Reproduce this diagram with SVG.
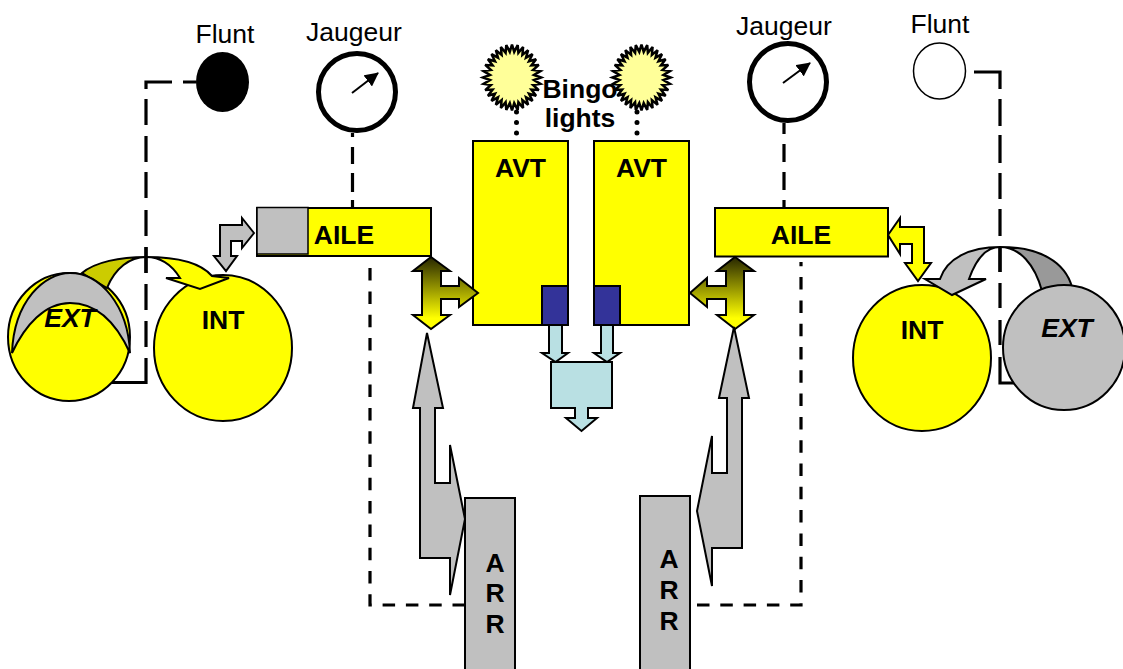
<svg xmlns="http://www.w3.org/2000/svg" width="1123" height="669" viewBox="0 0 1123 669">
<style>
text{font-family:"Liberation Sans",Arial,sans-serif;font-size:26.5px;fill:#000;text-anchor:middle}
.b{font-weight:700}.bi{font-weight:700;font-style:italic}
.s{stroke:#000;stroke-width:2;stroke-linejoin:miter}
.y{fill:#ff0}.g{fill:#c0c0c0}.c{fill:#b9e0e3}.n{fill:#333399}
.dl{fill:none;stroke:#000;stroke-width:3.2}
.ds{stroke-dasharray:12.5 10.8}
.star{fill:#ffff99;stroke:#000;stroke-width:2.5;stroke-miterlimit:3}
</style>
<defs>
<linearGradient id="fade" x1="0" y1="0" x2="0" y2="1"><stop offset="0" stop-color="#262600"/><stop offset="0.85" stop-color="#ffff00"/><stop offset="1" stop-color="#ffff00"/></linearGradient>
<polygon id="sun" class="star" points="29,0 22,-2.5 28.4,-6.4 21.1,-7.5 26.8,-12.6 19.4,-12.1 24.1,-18.3 17,-16.3 20.5,-23.3 14,-19.8 16.1,-27.4 10.4,-22.6 11.1,-30.5 6.4,-24.6 5.7,-32.4 2.2,-25.6 0,-33 -2.2,-25.6 -5.7,-32.4 -6.4,-24.6 -11.1,-30.5 -10.4,-22.6 -16.1,-27.4 -14,-19.8 -20.5,-23.3 -17,-16.3 -24.1,-18.3 -19.4,-12.1 -26.8,-12.6 -21.1,-7.5 -28.4,-6.4 -22,-2.5 -29,0 -22,2.5 -28.4,6.4 -21.1,7.5 -26.8,12.6 -19.4,12.1 -24.1,18.3 -17,16.3 -20.5,23.3 -14,19.8 -16.1,27.4 -10.4,22.6 -11.1,30.5 -6.4,24.6 -5.7,32.4 -2.2,25.6 0,33 2.2,25.6 5.7,32.4 6.4,24.6 11.1,30.5 10.4,22.6 16.1,27.4 14,19.8 20.5,23.3 17,16.3 24.1,18.3 19.4,12.1 26.8,12.6 21.1,7.5 28.4,6.4 22,2.5"/>
<marker id="gh" viewBox="0 0 14 14" refX="13" refY="7" markerWidth="14" markerHeight="14" markerUnits="userSpaceOnUse" orient="auto"><path d="M0,0L14,7L0,14Z"/></marker>
</defs>

<g id="connectors">
<path class="dl" d="M196,82H183M172,82H146V89M146,99V125M146,136V162M146,172V198M146,210V236M146,247V273M146,284V310M146,321V347M146,358V382.500H112"/>
<path class="dl" d="M974,72H1000V89M1000,99V126M1000,135V163M1000,173V199M1000,209V236M1000,247V272M1000,283V308M1000,320V345M1000,357V383H1015"/>
<path class="dl" d="M352.500,133V137M352.500,147V164M352.500,173V192M352.500,200V208"/>
<path class="dl" d="M784,123V134M784,144V162M784,172V190M784,200V208"/>
<path class="dl ds" d="M465,605H370V263"/>
<path class="dl ds" d="M697,605H801V262"/>
<path d="M516.500,112V134M637,112V134" fill="none" stroke="#000" stroke-width="5" stroke-linecap="round" stroke-dasharray="0 10.500"/>
</g>

<g id="ext-left">
<ellipse class="y s" cx="69" cy="337" rx="61" ry="64"/>
<path d="M82,273C95,262 120,257 146,257C130,257 115,268 107,288Z" fill="#cccc00" class="s"/>
<path class="g s" d="M12,353C14,300 45,273 70,273C100,273 128,305 130,353C115,320 95,303 70,303C45,303 25,325 12,353Z"/>
<text class="bi" x="70" y="327">EXT</text>
</g>

<g id="int-left">
<ellipse class="y s" cx="223" cy="348" rx="69" ry="73"/>
<text class="b" x="223" y="329">INT</text>
<path class="y s" d="M146,257C175,257 200,262 212,276L229,278L200,289L166,278L180,278C172,265 160,257 146,257Z"/>
<path class="dl" d="M146,247V273"/>
</g>

<g id="ext-right">
<path d="M1000,247C1040,247 1065,262 1072,287L1042,291C1035,265 1020,247 1000,247Z" fill="#999" class="s"/>
<ellipse class="g s" cx="1064" cy="347.500" rx="61" ry="62.500"/>
<text class="bi" x="1067" y="337">EXT</text>
</g>

<g id="int-right">
<ellipse class="y s" cx="922" cy="358" rx="69" ry="73"/>
<text class="b" x="922" y="339">INT</text>
<path class="g s" d="M1000,247C970,247 947,258 940,279L925,279L952,295L986,279L969,279C975,262 985,247 1000,247Z"/>
<path class="dl" d="M1000,247V272"/>
</g>

<g id="flunt-left"><text x="225" y="43">Flunt</text><ellipse cx="222.500" cy="82" rx="26.500" ry="30" fill="#000"/></g>
<g id="jaugeur-left">
<text x="354" y="41">Jaugeur</text>
<circle cx="357" cy="92" r="38.500" fill="#fff" stroke="#000" stroke-width="5"/>
<line x1="352" y1="93" x2="378" y2="73" stroke="#000" stroke-width="2" marker-end="url(#gh)"/>
</g>
<g id="jaugeur-right">
<text x="784" y="35">Jaugeur</text>
<circle cx="788" cy="82" r="38.500" fill="#fff" stroke="#000" stroke-width="5"/>
<line x1="783" y1="83" x2="810" y2="63" stroke="#000" stroke-width="2" marker-end="url(#gh)"/>
</g>
<g id="flunt-right"><text x="940" y="33">Flunt</text><ellipse cx="939.500" cy="71" rx="26" ry="28" fill="#fff" stroke="#000" stroke-width="1.500"/></g>

<g id="aile-left">
<rect class="y s" x="257" y="208" width="174" height="48"/>
<rect class="g" x="257" y="207.500" width="51" height="46.500" stroke="#000" stroke-width="1.500"/>
<text class="b" x="344" y="244">AILE</text>
<path class="g s" d="M254,233L242,218V225H220V256H214L226,271L237,256H231V241H242V248Z"/>
</g>
<g id="aile-right">
<rect class="y s" x="715" y="208" width="173" height="48.500"/>
<text class="b" x="801" y="244">AILE</text>
<path class="y s" d="M888,235L900,218V227H924V263H931L918,281L905,263H912V244H900V254Z"/>
</g>

<g id="avt-left">
<rect class="y s" x="473" y="141" width="95" height="184"/>
<rect class="n s" x="542" y="286" width="26" height="39"/>
<text class="b" x="520.500" y="177">AVT</text>
</g>
<g id="avt-right">
<rect class="y s" x="594" y="141" width="95" height="184"/>
<rect class="n s" x="594" y="286" width="26" height="39"/>
<text class="b" x="641.500" y="177">AVT</text>
</g>

<g id="bingo-lights">
<use href="#sun" x="512" y="77.500"/>
<text class="b" x="580" y="98">Bingo</text>
<text class="b" x="580" y="127">lights</text>
<use href="#sun" x="641.500" y="77.500"/>
</g>

<g id="valve-left"><path class="s" fill="url(#fade)" d="M431,257L450,271H441V286H459V278L478,293L459,307V299H441V315H450L431,329L413,315H422V271H413Z"/></g>
<g id="valve-right"><path class="s" fill="url(#fade)" d="M735,257L754,271H744V315H754L735,329L717,315H726V299H707V307L690,293L707,278V286H726V271H717Z"/></g>

<g id="collector">
<path class="c s" d="M549,325H562V353H568L555.500,362L542,353H549Z"/>
<path class="c s" d="M601,325H613V353H620L607,362L594,353H601Z"/>
<path class="c s" d="M551,362H612V408H588V418H597L581.500,431L566,418H575V408H551Z"/>
</g>

<g id="arr-left">
<path class="g s" d="M427,333L443,408H435V483H450V445L465,519L450,595V558H420V408H413Z"/>
<rect class="g s" x="465" y="498" width="50" height="175"/>
<text class="b" x="495" y="572">A</text><text class="b" x="495" y="602">R</text><text class="b" x="495" y="633">R</text>
</g>
<g id="arr-right">
<path class="g s" d="M734,327L749,398H742V548H712V586L697,511L712,436V473H727V398H719Z"/>
<rect class="g s" x="640" y="496" width="50" height="177"/>
<text class="b" x="669" y="568">A</text><text class="b" x="669" y="599">R</text><text class="b" x="669" y="630">R</text>
</g>
</svg>
